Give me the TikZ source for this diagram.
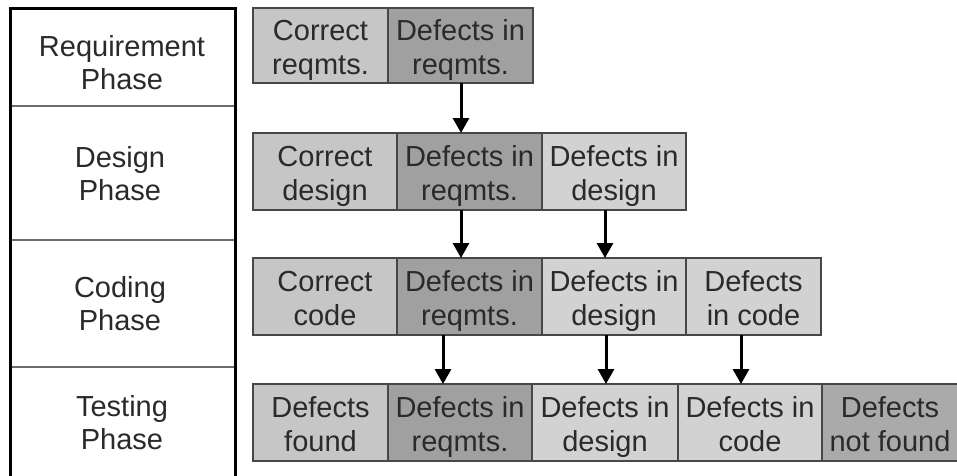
\documentclass[tikz,border=0pt]{standalone}
\usepackage{fontspec}
\setmainfont{Liberation Sans}
\usetikzlibrary{arrows.meta}
\definecolor{inkgray}{HTML}{2A2A2A}
\definecolor{edgegray}{HTML}{474747}
\definecolor{okfill}{HTML}{C6C6C6}
\definecolor{reqfill}{HTML}{A0A0A0}
\definecolor{lightfill}{HTML}{D2D2D2}
\definecolor{missfill}{HTML}{AAAAAA}
% two lines with a fixed ascent and depth, so every label sits alike in its box
\newcommand\pairlines[2]{\rule{0pt}{32pt}#1\\#2\rule[-8pt]{0pt}{8pt}}
\tikzset{
  cell/.style={draw=edgegray, line width=1.6pt, anchor=north west, inner sep=0pt,
    outer sep=0pt, minimum height=77pt, align=center, text=inkgray,
    font=\fontsize{29}{34}\selectfont},
  phase/.style={align=center, text=inkgray, font=\fontsize{29}{33}\selectfont},
  flow/.style={line width=3pt, -{Triangle[length=15pt,width=16pt]}},
  panelrule/.style={line width=3pt, black},
  divider/.style={line width=1.4pt, edgegray!80}
}
\begin{document}
\begin{tikzpicture}[x=1pt,y=-1pt]
\useasboundingbox[fill=white] (0,0) rectangle (957,475);

% phase column
\draw[divider] (10,106) -- (235,106);
\draw[divider] (10,240) -- (235,240);
\draw[divider] (10,367) -- (235,367);
\draw[panelrule] (10,476) -- (10,8) -- (235,8) -- (235,476);
\node[phase] (p1) at (122,61) {\pairlines{Requirement}{Phase}};
\node[phase] (p2) at (120,172) {\pairlines{Design}{Phase}};
\node[phase] (p3) at (120,302) {\pairlines{Coding}{Phase}};
\node[phase] (p4) at (122,421) {\pairlines{Testing}{Phase}};

% requirement row
\node[cell, fill=okfill,  minimum width=135pt, minimum height=75pt] (r1c1) at (253,8) {\pairlines{Correct}{reqmts.}};
\node[cell, fill=reqfill, minimum width=145pt, minimum height=75pt] (r1c2) at (388,8) {\pairlines{Defects in}{reqmts.}};

% design row
\node[cell, fill=okfill,    minimum width=144pt] (r2c1) at (253,133) {\pairlines{Correct}{design}};
\node[cell, fill=reqfill,   minimum width=145pt] (r2c2) at (397,133) {\pairlines{Defects in}{reqmts.}};
\node[cell, fill=lightfill, minimum width=144pt] (r2c3) at (542,133) {\pairlines{Defects in}{design}};

% coding row
\node[cell, fill=okfill,    minimum width=144pt] (r3c1) at (253,258) {\pairlines{Correct}{code}};
\node[cell, fill=reqfill,   minimum width=145pt] (r3c2) at (397,258) {\pairlines{Defects in}{reqmts.}};
\node[cell, fill=lightfill, minimum width=144pt] (r3c3) at (542,258) {\pairlines{Defects in}{design}};
\node[cell, fill=lightfill, minimum width=135pt] (r3c4) at (686,258) {\pairlines{Defects}{in code}};

% testing row
\node[cell, fill=okfill,    minimum width=135pt] (r4c1) at (253,384) {\pairlines{Defects}{found}};
\node[cell, fill=reqfill,   minimum width=144pt] (r4c2) at (388,384) {\pairlines{Defects in}{reqmts.}};
\node[cell, fill=lightfill, minimum width=146pt] (r4c3) at (532,384) {\pairlines{Defects in}{design}};
\node[cell, fill=lightfill, minimum width=144pt] (r4c4) at (678,384) {\pairlines{Defects in}{code}};
\node[cell, fill=missfill,  minimum width=136pt] (r4c5) at (822,384) {\pairlines{Defects}{not found}};

% arrow tracks
\coordinate (ka) at (461,0);
\coordinate (kb) at (605,0);
\coordinate (kc) at (443,0);
\coordinate (kd) at (606,0);
\coordinate (ke) at (741,0);

\draw[flow] (r1c2.south -| ka) -- (r2c2.north -| ka);
\draw[flow] (r2c2.south -| ka) -- (r3c2.north -| ka);
\draw[flow] (r2c3.south -| kb) -- (r3c3.north -| kb);
\draw[flow] (r3c2.south -| kc) -- (r4c2.north -| kc);
\draw[flow] (r3c3.south -| kd) -- (r4c3.north -| kd);
\draw[flow] (r3c4.south -| ke) -- (r4c4.north -| ke);
\end{tikzpicture}
\end{document}
